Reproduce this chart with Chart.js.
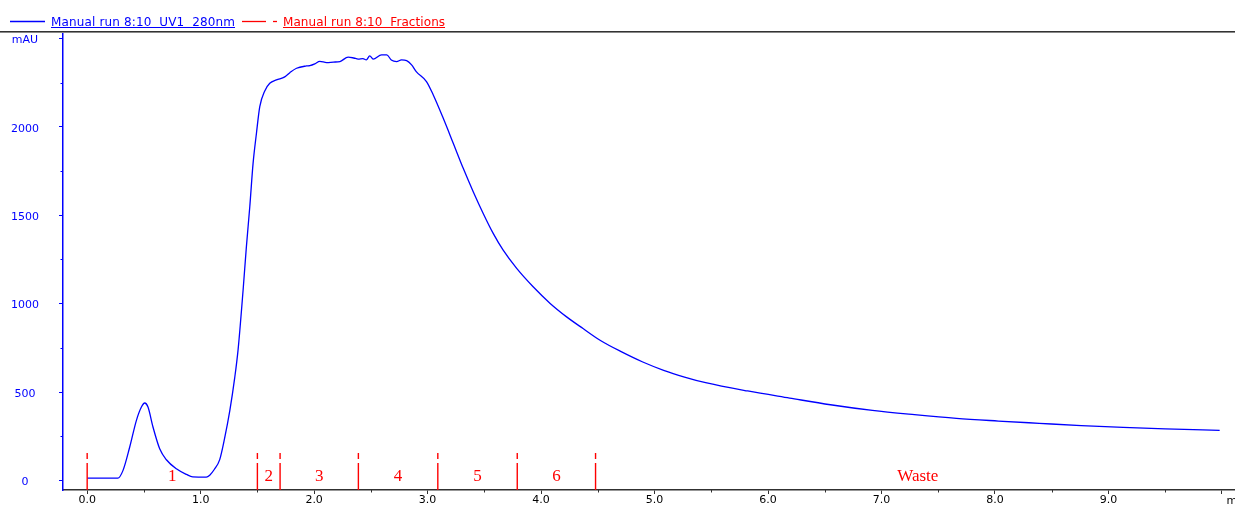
<!DOCTYPE html>
<html><head><meta charset="utf-8">
<script src="https://cdn.jsdelivr.net/npm/chart.js@4.4.1/dist/chart.umd.min.js"></script>
<style>
html,body{margin:0;padding:0;background:#fff;overflow:hidden}
canvas{display:block}
</style></head><body>
<canvas id="c" width="1235" height="507"></canvas>
<script>
// ---- data ----
const volumeMl = [0.00,0.27,0.316,0.375,0.434,0.478,0.507,0.536,0.58,0.639,0.698,0.786,0.875,0.93,1.05,1.08,1.12,1.168,1.21,1.257,1.30,1.33,1.374,1.403,1.433,1.462,1.492,1.521,1.565,1.609,1.668,1.741,1.786,1.845,1.933,1.962,2.006,2.05,2.11,2.17,2.227,2.30,2.35,2.388,2.43,2.46,2.49,2.52,2.594,2.64,2.68,2.727,2.77,2.815,2.859,2.90,2.99,3.05,3.138,3.226,3.314,3.402,3.49,3.578,3.666,3.785,3.93,4.08,4.225,4.37,4.527,4.71,4.896,5.08,5.264,5.45,5.82,6.19,6.55,6.92,7.29,7.66,8.03,8.39,8.76,9.13,9.50,9.98];
const uv280mAU = [13,13,57,189,340,415,438,415,302,179,117,66,34,20,19,30,62,118,235,395,580,740,1076,1321,1548,1793,1965,2114,2203,2246,2265,2282,2306,2331,2344,2346,2356,2370,2363,2366,2369,2394,2389,2383,2386,2378,2401,2383,2407,2407,2378,2369,2378,2374,2350,2312,2256,2180,2048,1907,1765,1633,1510,1397,1302,1199,1095,1001,925,859,790,727,670,623,585,553,506,466,428,396,372,351,336,323,310,300,292,283];
const fractionBounds = [0.00,1.50,1.70,2.39,3.09,3.79,4.48];
const fractionEnd = 10.16;
const fractionLabels = ['1','2','3','4','5','6','Waste'];
const xTickValues = [0,1,2,3,4,5,6,7,8,9,10];
const xTickLabels = ['0.0','1.0','2.0','3.0','4.0','5.0','6.0','7.0','8.0','9.0',''];
const xMinorTicks = [0.5,1.5,2.5,3.5,4.5,5.5,6.5,7.5,8.5,9.5];
const xUnitLabel = 'ml';
const yTickValues = [0,500,1000,1500,2000,2500];
const yTickLabels = ['0','500','1000','1500','2000','mAU'];
const yMinorTicks = [250,750,1250,1750,2250];
const seriesNames = ['Manual run 8:10  UV1  280nm','Manual run 8:10  Fractions'];

// ---- styling ----
const BLUE = '#0000ff', RED = '#ff0000', AXIS = '#303030';
const MARK_TOP = 155, MARK_BOTTOM = -80;

const curve = volumeMl.map((x,i)=>({x, y: uv280mAU[i]}));
const marks = [];
fractionBounds.forEach(b=>{ marks.push({x:b,y:MARK_TOP},{x:b,y:MARK_BOTTOM},{x:b,y:null}); });

Chart.defaults.font.family = 'DejaVu Sans';

const extras = {
  id:'extras',
  afterDraw(chart){
    const ctx = chart.ctx, xs = chart.scales.x, ys = chart.scales.y, ca = chart.chartArea;
    ctx.save();
    // top rule
    ctx.fillStyle = '#333'; ctx.fillRect(0,31,1235,1);
    ctx.fillStyle = '#888'; ctx.fillRect(0,32,1235,1);
    // minor ticks
    ctx.strokeStyle = BLUE; ctx.lineWidth = 1;
    yMinorTicks.forEach(v=>{ const y = Math.round(ys.getPixelForValue(v))+0.5; ctx.beginPath(); ctx.moveTo(ca.left-2.5,y); ctx.lineTo(ca.left,y); ctx.stroke(); });
    ctx.strokeStyle = AXIS;
    xMinorTicks.forEach(v=>{ const x = Math.round(xs.getPixelForValue(v))+0.5; ctx.beginPath(); ctx.moveTo(x,ca.bottom); ctx.lineTo(x,ca.bottom+2.5); ctx.stroke(); });
    // unit label at the right end of the x axis
    ctx.fillStyle = '#000'; ctx.font = '11px "DejaVu Sans"'; ctx.textAlign='left'; ctx.textBaseline='alphabetic';
    ctx.fillText(xUnitLabel, xs.getPixelForValue(xTickValues[xTickValues.length-1])+4.5, 504);
    // fraction labels
    ctx.fillStyle = RED; ctx.font = '17px "Liberation Serif"'; ctx.textAlign='center';
    const edges = fractionBounds.concat([fractionEnd]);
    fractionLabels.forEach((t,i)=>{
      const xm = (xs.getPixelForValue(edges[i]) + xs.getPixelForValue(edges[i+1]))/2;
      ctx.fillText(t, xm, ca.bottom-9);
    });
    // legend
    const drawItem = (x0,x1,color,text,tx,tw,dash)=>{
      ctx.strokeStyle = color; ctx.lineWidth = 1.3;
      ctx.beginPath(); ctx.moveTo(x0,21.5); ctx.lineTo(x1,21.5); ctx.stroke();
      if (dash){ ctx.beginPath(); ctx.moveTo(dash[0],21.5); ctx.lineTo(dash[1],21.5); ctx.stroke(); }
      ctx.font = '12px "DejaVu Sans"'; ctx.textAlign='left'; ctx.fillStyle = color;
      const w = ctx.measureText(text).width;
      ctx.letterSpacing = ((tw - w)/(text.length-1)).toFixed(2)+'px';
      ctx.fillText(text, tx, 26);
      ctx.letterSpacing = '0px';
      ctx.fillRect(tx, 27, tw, 1);
    };
    drawItem(10,45,BLUE,seriesNames[0],51,184,null);
    drawItem(242,266,RED,seriesNames[1],283,162,[273,277]);
    ctx.restore();
  }
};

new Chart(document.getElementById('c'), {
  type:'line',
  data:{ datasets:[
    { label: seriesNames[0], data: curve, borderColor: BLUE, borderWidth: 1.3, pointRadius: 0, cubicInterpolationMode:'monotone', fill:false, order:2 },
    { label: seriesNames[1], data: marks, borderColor: RED, borderWidth: 1.4, pointRadius: 0, spanGaps:false, borderDash:[6,4,80,0], order:1 }
  ]},
  options:{
    responsive:false, animation:false, events:[],
    layout:{ padding:{ top:32, left:0, right:0, bottom:0 } },
    plugins:{ legend:{display:false}, tooltip:{enabled:false} },
    scales:{
      x:{ type:'linear', min:-0.213, max:10.115,
        afterBuildTicks: s=>{ s.ticks = xTickValues.map(v=>({value:v})); },
        afterFit: s=>{ s.height = 17; s.paddingLeft = 0; s.paddingRight = 0; s.paddingTop = 0; s.paddingBottom = 0; },
        grid:{ drawOnChartArea:false, drawTicks:true, tickLength:4, tickColor:AXIS, tickWidth:1 },
        border:{ color:AXIS, width:1.5 },
        ticks:{ autoSkip:false, maxRotation:0, padding:0, color:'#000', font:{size:11},
          callback:(v)=>{ const i = xTickValues.indexOf(v); return i>=0 ? xTickLabels[i] : ''; } }
      },
      y:{ type:'linear', min:-54, max:2536,
        afterBuildTicks: s=>{ s.ticks = yTickValues.map(v=>({value:v})); },
        afterFit: s=>{ s.width = 63; s.paddingTop = 0; s.paddingBottom = 0; s.paddingLeft = 0; s.paddingRight = 0; },
        grid:{ drawOnChartArea:false, drawTicks:true, tickLength:4, tickColor:BLUE, tickWidth:1 },
        border:{ color:BLUE, width:1.5 },
        ticks:{ crossAlign:'center', padding:20, labelOffset:2, color:BLUE, font:{size:11},
          callback:(v)=>{ const i = yTickValues.indexOf(v); return i>=0 ? yTickLabels[i] : ''; } }
      }
    }
  },
  plugins:[extras]
});
</script>
</body></html>
